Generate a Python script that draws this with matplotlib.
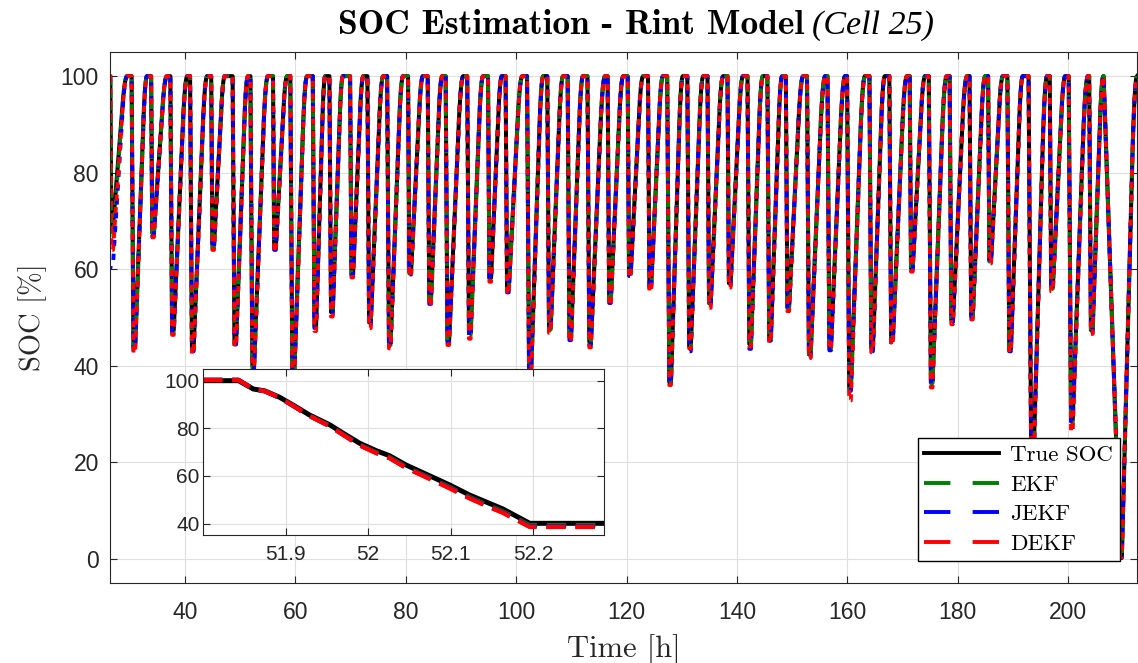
import numpy as np
import matplotlib
matplotlib.use('Agg')
import matplotlib.pyplot as plt
from matplotlib.lines import Line2D
from matplotlib.ticker import FuncFormatter

# middle of each low point: time [h] and SOC [%]
dip_t = [26.8, 30.8, 34.2, 37.8, 41.4, 45.1, 49.1, 52.35, 56.3, 59.6,
         63.6, 66.6, 70.3, 73.5, 77.1, 80.8, 84.4, 87.7, 91.6, 95.3,
         98.5, 102.5, 106.1, 109.8, 113.4, 117.0, 120.6, 124.3, 127.9, 131.5,
         135.1, 138.7, 142.4, 146.0, 149.3, 153.2, 156.9, 160.5, 164.5, 168.1,
         171.7, 175.3, 179.0, 182.6, 185.9, 189.5, 193.5, 197.1, 200.7, 204.3,
         209.6]
true_dip = [69, 44, 67.5, 47.4, 43.5, 65, 45, 40, 64.6, 37,
            48.4, 51.1, 59.2, 49, 44.7, 59.4, 53.4, 45.3, 46.8, 58.2,
            55.7, 37, 47.8, 46, 45, 53.6, 59.2, 56.3, 36.6, 44,
            53, 57.1, 44.5, 45.8, 52.2, 42.4, 44, 35.4, 43.7, 45.3,
            60.2, 36.8, 49.5, 50.5, 61.9, 43.5, 17, 56.4, 28.8, 47.4,
            0.2]
ekf_dip = [67, 43.6, 67, 47, 43.2, 64.5, 44.6, 39.3, 64.2, 36.5,
           48, 50.8, 59, 48.7, 44.3, 59.1, 53, 45, 46.4, 58,
           55.4, 36.5, 47.5, 45.6, 44.6, 53.2, 59, 56, 37, 43.6,
           52.7, 56.8, 44.2, 45.4, 51.9, 42, 43.6, 35, 43.3, 45,
           60, 36.4, 49.2, 50.2, 61.6, 43.2, 16.5, 56, 28.4, 47,
           0.6]
jekf_dip = [61, 43.2, 67, 46.8, 43, 64.4, 44.4, 39, 64, 36.2,
            47.8, 50.6, 58.8, 48.3, 44, 58.9, 52.8, 44.8, 46, 57.8,
            55.2, 36.2, 47.2, 45.3, 44.3, 53, 58.6, 55.8, 36.4, 43,
            52.4, 56.6, 43.5, 45.2, 51.7, 41.8, 43.2, 34.8, 43, 44.8,
            59.8, 36, 49, 50, 61.4, 43, 16, 55.8, 28.5, 46.8,
            0.4]
dekf_dip = [64, 42.6, 66.6, 46.4, 42.4, 64, 44, 38.5, 63.6, 35.5,
            47.2, 50.2, 58.3, 47.8, 43.6, 58.5, 52.3, 44.3, 45.6, 57.4,
            54.8, 35.5, 46.8, 45, 43.8, 52.5, 58.3, 55.3, 36, 43.6,
            52, 56.2, 44, 44.8, 51.3, 41.6, 43.4, 32.8, 42.8, 44.3,
            59.5, 35.5, 48.6, 49.6, 61.2, 42.8, 15, 55.4, 26.3, 46.6,
            0.3]
# time at which the recharge is back at 100 %
full_t = [29.5, 33.1, 36.7, 40.4, 44.0, 47.2, 51.4, 55.0, 58.5, 62.1,
          65.4, 68.6, 72.3, 75.9, 79.5, 83.1, 86.6, 90.4, 94.0, 97.4,
          101.1, 104.9, 108.5, 112.1, 116.1, 119.4, 123.0, 126.6, 130.2, 133.9,
          137.5, 141.1, 144.7, 148.2, 152.0, 156.0, 159.6, 163.2, 166.8, 170.8,
          174.1, 178.0, 181.7, 185.0, 188.2, 191.8, 196.2, 199.5, 203.6, 206.4,
          212.5]

# zoomed discharge (inset)
ins_t = [51.80, 51.843, 51.861, 51.875, 51.893, 51.909, 51.929, 51.954, 51.970, 51.990,
         52.010, 52.026, 52.046, 52.075, 52.099, 52.123, 52.147, 52.163, 52.196, 52.29]
ins_true = [100, 100, 96.5, 95.7, 93, 89.8, 85.6, 81.4, 77.9, 73.7,
            70.6, 68.5, 64.6, 60, 56.2, 52, 48.5, 46.2, 40.1, 40.1]
ins_ekf = [100.3, 100.3, 96.5, 95.6, 92.9, 89.6, 85.3, 81.0, 77.4, 73.1,
           69.9, 67.9, 63.8, 59.2, 55.3, 51.1, 47.5, 45.2, 39.3, 39.3]
ins_jekf = [100.3, 100.3, 96.5, 95.6, 92.8, 89.5, 85.2, 80.9, 77.3, 72.9,
            69.7, 67.6, 63.5, 58.9, 55.0, 50.8, 47.1, 44.8, 38.8, 38.8]
ins_dekf = [100.3, 100.3, 96.5, 95.6, 92.8, 89.5, 85.2, 80.8, 77.2, 72.8,
            69.6, 67.5, 63.4, 58.7, 54.8, 50.6, 46.9, 44.6, 38.6, 38.6]

t_start = 26.4
drop_h = [0.006 * (100 - v) for v in true_dip]
drop_h[-1] = 3.0   # last one is a slow full discharge
hold = 0.15


def soc_curve(dips, start=100.0):
    t = [t_start]
    y = [start]
    n = len(dip_t)
    for k in range(n):
        if k > 0 or start == 100.0:
            t.append(dip_t[k] - hold - drop_h[k])
            y.append(100)
        t += [dip_t[k] - hold, dip_t[k] + hold]
        y += [dips[k], dips[k]]
        # recharge: constant rate up to ~80 %, then easing into 100 %
        t1 = full_t[k]
        if k < n - 1:
            t1 = min(t1, dip_t[k + 1] - hold - drop_h[k + 1] - 0.05)
        s = np.linspace(0, 1, 40)[1:]
        f = np.where(s < 2 / 3, 1.2 * s, 1 - 1.8 * (1 - s) ** 2)
        t += list(dip_t[k] + hold + (t1 - dip_t[k] - hold) * s)
        y += list(dips[k] + (100 - dips[k]) * f)
    return np.array(t), np.array(y)


plt.rcParams['lines.scale_dashes'] = False
plt.rcParams['axes.unicode_minus'] = False
dark = '#262626'
green = '#008000'

fig = plt.figure(figsize=(11.38, 6.63), dpi=100)
ax = fig.add_axes([110/1138, 1-583/663, 1027/1138, 531/663])

t, y = soc_curve(true_dip)
ax.plot(t, y, color='k', lw=2.9, solid_joinstyle='round')
t, y = soc_curve(ekf_dip)
ax.plot(t, y, color=green, lw=2.8, ls=(6, (4.0, 5.0)))
t, y = soc_curve(jekf_dip, start=60.0)
ax.plot(t, y, color='b', lw=2.8, ls=(2, (4.5, 5.5)))
t, y = soc_curve(dekf_dip)
ax.plot(t, y, color='r', lw=2.8, ls=(0, (4.5, 4.5)))

ax.set_xlim(t_start, full_t[-1])
ax.set_ylim(-5, 105)
ax.set_xticks(np.arange(40, 201, 20))
ax.set_yticks(np.arange(0, 101, 20))
ax.grid(True, color='#dfdfdf', lw=0.8)
ax.tick_params(direction='in', top=True, right=True, length=5, width=0.8,
               color=dark, labelcolor=dark, labelsize=16.5)
ax.tick_params(axis='x', pad=13)
ax.tick_params(axis='y', pad=8)
for lab in ax.get_xticklabels() + ax.get_yticklabels():
    lab.set_family('Liberation Sans')
for sp in ax.spines.values():
    sp.set_color(dark)
    sp.set_linewidth(0.8)

ax.set_xlabel('Time [h]', family='cmr10', fontsize=22, color=dark, labelpad=7)
ax.set_ylabel('SOC [%]', family='cmr10', fontsize=20.5, color=dark, labelpad=10)

fig.text(804/1138, 1-26/663, 'SOC Estimation - Rint Model', ha='right', va='center',
         family='cmb10', fontsize=25.5)
fig.text(812/1138, 1-26/663, '(Cell 25)', ha='left', va='center',
         family='Liberation Serif', style='italic', fontsize=24.5)

leg_ls = (0, (19, 16))
handles = [Line2D([], [], color='k', lw=2.8),
           Line2D([], [], color=green, lw=2.8, ls=leg_ls),
           Line2D([], [], color='b', lw=2.8, ls=leg_ls),
           Line2D([], [], color='r', lw=2.8, ls=leg_ls)]
leg = ax.legend(handles, ['True SOC', 'EKF', 'JEKF', 'DEKF'],
                loc='lower right', bbox_to_anchor=(1120/1138, 1-561/663),
                bbox_transform=fig.transFigure, borderaxespad=0,
                prop={'family': 'cmr10', 'size': 16.5}, fancybox=False,
                framealpha=1, edgecolor='k', handlelength=3.25,
                labelspacing=0.42, handletextpad=0.5, borderpad=0.3)
leg.get_frame().set_linewidth(1.0)

# inset
axi = fig.add_axes([203/1138, 1-535/663, 401/1138, 166/663])
axi.plot(ins_t, ins_true, color='k', lw=3.6)
axi.plot(ins_t, ins_ekf, color=green, lw=3.2, ls=(0, (14, 7)))
axi.plot(ins_t, ins_jekf, color='b', lw=3.2, ls=(0, (14, 7)))
axi.plot(ins_t, ins_dekf, color='r', lw=3.2, ls=(0, (14, 7)))
axi.set_xlim(51.8, 52.286)
axi.set_ylim(35.2, 104.9)
axi.set_xticks([51.9, 52.0, 52.1, 52.2])
axi.set_yticks([40, 60, 80, 100])
axi.xaxis.set_major_formatter(FuncFormatter(lambda v, p: '%g' % round(v, 2)))
axi.grid(True, color='#dfdfdf', lw=0.8)
axi.tick_params(direction='in', top=True, right=True, length=5, width=0.8,
                color=dark, labelcolor=dark, labelsize=15)
axi.tick_params(axis='x', pad=7)
axi.tick_params(axis='y', pad=2.5)
for lab in axi.get_xticklabels() + axi.get_yticklabels():
    lab.set_family('Liberation Sans')
for sp in axi.spines.values():
    sp.set_color(dark)
    sp.set_linewidth(0.8)

fig.savefig('out.png', dpi=100)
